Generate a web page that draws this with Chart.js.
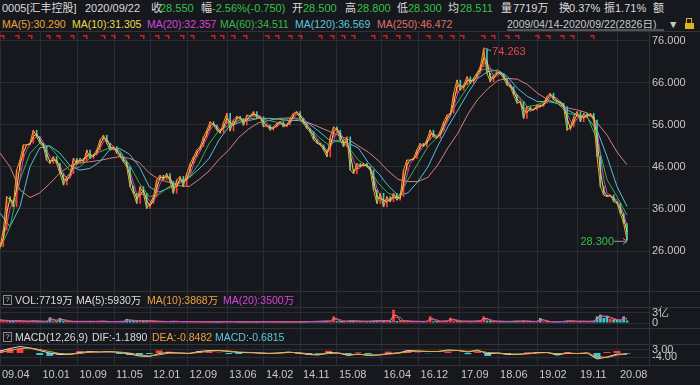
<!DOCTYPE html>
<html><head><meta charset="utf-8">
<script src="https://cdn.jsdelivr.net/npm/chart.js@4.4.0/dist/chart.umd.min.js"></script>
<style>
body{margin:0;background:#16181d;width:700px;height:385px;overflow:hidden;position:relative;font-family:"Liberation Sans","Noto Sans CJK SC",sans-serif;font-size:11px;color:#dcdcdc}
.t{position:absolute;white-space:nowrap;line-height:14px}
.s{font-size:10.5px}
canvas{position:absolute;left:0}
.hl{position:absolute;left:0;width:700px;height:1px;background:#30333a}
.g{color:#35c04a}
.q{position:absolute;left:3px;width:7px;height:8px;border:1px solid #8a8a8a;font-size:8px;line-height:8px;text-align:center;color:#bbb}
</style></head><body>

<div class="t" style="left:2px;top:1px">0005[汇丰控股]</div>
<div class="t" style="left:85px;top:1px">2020/09/22</div>
<div class="t" style="left:151px;top:1px">收</div><div class="t g" style="left:160px;top:1px">28.550</div>
<div class="t" style="left:201px;top:1px">幅</div><div class="t g" style="left:212px;top:1px">-2.56%(-0.750)</div>
<div class="t" style="left:292px;top:1px">开</div><div class="t g" style="left:303px;top:1px">28.500</div>
<div class="t" style="left:345px;top:1px">高</div><div class="t g" style="left:357px;top:1px">28.800</div>
<div class="t" style="left:397px;top:1px">低</div><div class="t g" style="left:408px;top:1px">28.300</div>
<div class="t" style="left:448px;top:1px">均</div><div class="t g" style="left:460px;top:1px">28.511</div>
<div class="t" style="left:501px;top:1px">量</div><div class="t" style="left:513px;top:1px">7719万</div>
<div class="t" style="left:559px;top:1px">换</div><div class="t" style="left:569px;top:1px">0.37%</div>
<div class="t" style="left:604px;top:1px">振</div><div class="t" style="left:615px;top:1px">1.71%</div>
<div class="t" style="left:653px;top:1px">额</div>

<div class="t s" style="left:2px;top:17px;color:#eda23c">MA(5):30.290</div>
<div class="t s" style="left:72px;top:17px;color:#e6dc4a">MA(10):31.305</div>
<div class="t s" style="left:147px;top:17px;color:#d844d8">MA(20):32.357</div>
<div class="t s" style="left:220px;top:17px;color:#3cb84a">MA(60):34.511</div>
<div class="t s" style="left:295px;top:17px;color:#5cc8d8">MA(120):36.569</div>
<div class="t s" style="left:377px;top:17px;color:#e0706a">MA(250):46.472</div>
<div class="t s" style="left:507px;top:17px;color:#c8c8c8">2009/04/14-2020/09/22(2826日)</div>
<div class="t s" style="left:668px;top:17px;color:#c8c8c8">▼</div>
<div style="position:absolute;left:685px;top:23px;width:9px;height:6px;background:#e0b020"></div>
<div style="position:absolute;left:686px;top:18px;width:4px;height:4px;border:1px solid #e0b020;border-bottom:none"></div>
<div style="position:absolute;left:507px;top:29px;width:157px;height:2px;background:#50535a"></div>

<canvas id="price" width="700" height="260" style="top:31px"></canvas>
<canvas id="vol" width="700" height="37" style="top:291px"></canvas>
<canvas id="macd" width="700" height="57" style="top:328px"></canvas>

<div class="hl" style="top:31px"></div>
<div class="hl" style="top:291px"></div>
<div class="hl" style="top:307px"></div>
<div class="hl" style="top:328px"></div>
<div class="hl" style="top:344px"></div>
<div class="hl" style="top:365px"></div>

<div class="q" style="top:295px">?</div>
<div class="t s" style="left:15px;top:293px">VOL:7719万</div>
<div class="t s" style="left:76px;top:293px">MA(5):5930万</div>
<div class="t s" style="left:147px;top:293px;color:#eda23c">MA(10):3868万</div>
<div class="t s" style="left:223px;top:293px;color:#d844d8">MA(20):3500万</div>

<div class="q" style="top:332px">?</div>
<div class="t s" style="left:15px;top:330px">MACD(12,26,9)</div>
<div class="t s" style="left:92px;top:330px">DIF:-1.1890</div>
<div class="t s" style="left:152px;top:330px;color:#eda23c">DEA:-0.8482</div>
<div class="t s" style="left:215px;top:330px;color:#5cc8d8">MACD:-0.6815</div>

<script>
// trading days since 2009/04/14, last one is 2020/09/22
const LAST_DAY = 2825;
const X_MAX = 2924;

const tickDays = [0, 182, 349, 514, 680, 845, 1023, 1189, 1356, 1518, 1719, 1886, 2068, 2244, 2420, 2604, 2784];
const tickLabels = ['09.04', '10.01', '10.09', '11.05', '12.01', '12.09', '13.06', '14.02', '14.11',
  '15.08', '16.04', '16.12', '17.09', '18.06', '19.02', '19.11', '20.08'];
const priceTicks = [26, 36, 46, 56, 66, 76];

// closing price, one every ~15 trading days
const closes = [
  27.0, 31.0, 38.9, 38.1, 36.5, 45.2, 47.6, 51.2, 51.2, 51.6,
  54.7, 53.1, 51.6, 50.8, 47.6, 46.8, 48.4, 46.8, 44.4, 41.7,
  43.7, 44.4, 48.0, 46.8, 48.0, 47.2, 50.0, 48.0, 48.8, 50.0,
  52.4, 53.5, 51.6, 50.0, 50.8, 49.2, 48.4, 47.2, 46.0, 41.3,
  39.7, 37.3, 41.3, 39.7, 36.1, 37.3, 38.9, 42.9, 44.0, 42.9,
  44.4, 42.5, 39.7, 42.9, 43.7, 41.3, 44.4, 46.8, 48.4, 50.0,
  50.8, 53.1, 54.7, 56.7, 55.9, 54.7, 54.0, 56.5, 58.7, 54.5,
  57.1, 58.0, 57.5, 55.9, 58.3, 57.9, 59.1, 57.5, 57.9, 55.5,
  55.9, 54.7, 55.5, 56.3, 56.7, 55.5, 55.9, 57.5, 58.7, 59.1,
  57.5, 56.3, 55.1, 54.3, 52.4, 51.6, 51.2, 50.0, 48.4, 53.1,
  55.5, 54.7, 52.4, 50.8, 53.1, 45.2, 44.4, 46.8, 46.0, 46.8,
  46.0, 45.2, 40.5, 37.3, 39.7, 36.5, 38.9, 37.7, 39.7, 38.1,
  38.9, 45.2, 47.6, 47.6, 48.0, 50.0, 51.6, 50.8, 52.4, 54.7,
  53.1, 52.8, 54.5, 56.7, 58.3, 58.7, 63.5, 66.6, 64.2, 65.4,
  67.4, 65.8, 67.0, 68.2, 69.8, 74.0, 68.2, 66.2, 67.8, 68.6,
  68.2, 67.0, 65.4, 65.0, 63.1, 61.1, 61.5, 57.5, 60.3, 59.5,
  59.5, 60.7, 60.3, 61.1, 62.7, 63.5, 61.9, 61.5, 61.1, 60.3,
  54.7, 55.5, 57.9, 59.1, 56.7, 58.7, 57.9, 58.7, 57.1, 48.4,
  41.3, 39.3, 38.9, 39.3, 37.7, 37.3, 34.9, 32.5, 28.55
];

// long moving averages, one every ~45 trading days
const ma60 = [
  26.5, 31.7, 42.9, 49.2, 51.6, 50.8, 48.0, 45.2, 46.0, 48.0,
  49.5, 50.5, 50.0, 46.5, 42.1, 38.9, 39.5, 41.3, 42.5, 43.5,
  46.8, 51.5, 54.7, 55.8, 57.0, 57.5, 57.5, 57.0, 56.5, 57.5,
  57.5, 55.5, 53.1, 51.2, 52.4, 50.8, 47.6, 46.0, 42.1, 39.7,
  38.9, 42.9, 46.8, 50.8, 53.1, 57.5, 61.5, 65.0, 68.6, 69.4,
  68.6, 66.2, 63.1, 60.3, 60.7, 61.9, 61.1, 58.7, 58.3, 57.9,
  52.4, 42.9, 38.9, 34.51
];
const ma120 = [
  35.0, 31.8, 36.5, 46.0, 50.5, 51.0, 49.3, 46.4, 45.2, 45.6,
  47.1, 50.0, 50.4, 49.0, 46.0, 41.2, 40.0, 41.0, 42.4, 43.4,
  45.5, 48.0, 52.4, 55.5, 56.5, 57.0, 57.5, 57.5, 57.3, 57.0,
  57.0, 56.3, 54.5, 52.5, 52.0, 51.6, 50.5, 47.0, 44.5, 41.5,
  39.2, 39.8, 42.5, 46.0, 51.0, 55.5, 59.5, 63.5, 67.0, 68.6,
  69.0, 67.4, 64.6, 62.7, 61.5, 61.5, 61.1, 59.5, 58.3, 57.7,
  54.7, 48.4, 41.3, 36.57
];
const ma250 = [
  49.3, 46.0, 40.5, 38.7, 39.8, 42.0, 44.5, 46.2, 46.9, 47.2,
  47.5, 48.0, 48.4, 48.0, 47.0, 44.5, 43.0, 42.3, 41.5, 41.3,
  43.0, 45.0, 47.8, 50.0, 53.0, 55.0, 56.5, 57.0, 57.5, 57.6,
  57.3, 56.5, 55.5, 54.5, 53.5, 52.5, 51.0, 49.5, 47.5, 45.0,
  43.0, 42.5, 42.5, 43.5, 46.5, 50.5, 54.0, 58.5, 62.0, 64.5,
  66.5, 67.0, 66.8, 65.5, 63.5, 62.0, 61.0, 60.0, 59.5, 58.8,
  56.5, 53.5, 49.5, 46.47
];

// volume in 万 shares, same steps as closes
const volumes = [
  9000, 7000, 8000, 6500, 6000, 7500, 6000, 5500, 5000, 6000,
  6500, 5500, 5000, 4800, 5200, 17000, 6000, 5000, 15000, 6000,
  5500, 5000, 4500, 4800, 5000, 4500, 5200, 4800, 4500, 5000,
  5500, 5000, 4500, 4200, 4800, 4500, 5000, 4800, 12000, 6500,
  7000, 7500, 6000, 6500, 7000, 6000, 5500, 5000, 4800, 4500,
  4500, 4800, 5200, 4500, 4200, 4500, 4000, 3800, 4200, 4000,
  3800, 4000, 3600, 3800, 4000, 3500, 3800, 4200, 4000, 4500,
  3800, 3600, 4000, 3500, 3800, 3600, 3500, 3800, 4000, 4200,
  3800, 4000, 3600, 3500, 3800, 3600, 3400, 3600, 3500, 3800,
  3600, 4000, 4200, 4500, 5000, 4800, 5200, 5500, 6000, 5000,
  20000, 5500, 5000, 5800, 5200, 7000, 6500, 5500, 5000, 5200,
  5000, 5500, 6500, 7000, 6000, 7500, 6500, 6000, 40000, 6000,
  6500, 7000, 5500, 5000, 4800, 5000, 4500, 4800, 5000, 20000,
  5000, 4800, 5500, 6000, 5500, 16000, 6500, 6000, 5500, 5000,
  5500, 5000, 5500, 6000, 7000, 20000, 7500, 6000, 5500, 5000,
  5000, 4800, 4500, 5000, 5500, 6000, 5000, 6500, 5000, 4800,
  4500, 4800, 15000, 4500, 4200, 4000, 4200, 4000, 4500, 5000,
  6500, 6000, 5000, 4800, 5500, 5000, 4800, 5000, 6000, 20000,
  25000, 15000, 22000, 12000, 9000, 10000, 8000, 20000, 7719
];

// MACD(12,26,9) lines, same steps as the long averages
const dif = [
  2.0, 4.5, 6.5, 5.0, 2.5, 0.0, -1.5, -1.5, 0.5, 1.5,
  1.0, 1.5, 0.5, -1.0, -3.0, -3.5, -0.5, 0.5, 0.0, -0.5,
  1.5, 2.5, 2.5, 1.5, 0.5, 0.5, 0.0, -0.5, 0.0, 1.0,
  0.0, -1.5, -2.0, 0.5, 0.0, -2.5, -1.0, -2.5, -2.0, -0.5,
  0.0, 2.5, 2.0, 1.5, 1.5, 3.0, 2.5, 1.0, 3.0, -1.0,
  0.0, -1.5, -1.5, -0.5, 0.5, 0.5, -2.0, 0.0, -0.5, 0.0,
  -6.0, -4.0, -1.0, -1.189
];
const dea = [
  0.5, 2.5, 4.5, 5.0, 3.5, 1.5, -0.5, -1.2, -0.5, 0.8,
  1.0, 1.2, 1.0, 0.0, -1.8, -3.0, -1.8, -0.2, 0.0, -0.3,
  0.5, 1.8, 2.3, 2.0, 1.0, 0.6, 0.2, -0.3, -0.2, 0.5,
  0.4, -0.8, -1.6, -0.6, -0.1, -1.5, -1.3, -1.9, -2.0, -1.2,
  -0.3, 1.2, 1.8, 1.6, 1.5, 2.3, 2.5, 1.6, 2.2, 0.5,
  0.0, -0.8, -1.3, -0.9, 0.0, 0.4, -0.9, -0.5, -0.5, -0.2,
  -3.5, -4.5, -2.0, -0.848
];

// information markers along the top of the price panel (trading day)
const eventDays = [9, 77, 135, 216, 261, 324, 383, 464, 509, 572, 640, 707, 752, 820, 865, 960, 1000,
  1050, 1104, 1203, 1248, 1307, 1352, 1442, 1496, 1545, 1590, 1681, 1735, 1793, 1838, 1928, 1982,
  2037, 2082, 2176, 2221, 2284, 2329, 2419, 2469, 2532, 2577, 2667];

const maxPrice = 74.263, maxDay = 2172;
const minPrice = 28.300, minDay = 2825;

const FONT = '"Liberation Sans", "Noto Sans CJK SC", sans-serif';
const GRID = '#2a2d34';
const LABEL = '#c8c8c8';
const UP = '#ff3c3c', DOWN = '#3cc8c8';

const dayAt = (arr, i) => Math.round(i * LAST_DAY / (arr.length - 1));
const points = arr => arr.map((v, i) => ({x: dayAt(arr, i), y: v}));
function movingAvg(arr, n) {
  return arr.map((_, i) => {
    const s = arr.slice(Math.max(0, i - n + 1), i + 1);
    return s.reduce((a, b) => a + b, 0) / s.length;
  });
}
const isUp = i => i === 0 || closes[i] >= closes[i - 1];

function xAxis(labels) {
  return {
    type: 'linear', min: 0, max: X_MAX, offset: false,
    afterBuildTicks: s => { s.ticks = tickDays.map(v => ({value: v})); },
    grid: {color: GRID, drawTicks: false, offset: false},
    border: {display: false},
    ticks: {
      display: labels, autoSkip: false, maxRotation: 0, align: 'start', labelOffset: 2, padding: 3,
      color: LABEL, font: {family: FONT, size: 11},
      callback: (v, i) => tickLabels[i]
    },
    afterFit: s => { s.height = labels ? 20 : 0; s.paddingLeft = 0; s.paddingRight = 0; }
  };
}
function yAxis(min, max, ticks, fmt) {
  return {
    position: 'right', min, max,
    afterBuildTicks: s => { s.ticks = ticks.map(v => ({value: v})); },
    grid: {color: GRID, drawTicks: false},
    border: {display: true, color: '#30333a'},
    ticks: {color: LABEL, padding: 3, font: {family: FONT, size: 11}, callback: fmt},
    afterFit: s => { s.width = 51; s.paddingTop = 0; s.paddingBottom = 0; }
  };
}
const line = (data, color, order) => ({
  type: 'line', data, borderColor: color, borderWidth: 1, pointRadius: 0, tension: 0, order
});
const base = {
  responsive: false, animation: false, events: [],
  layout: {padding: 0},
  plugins: {legend: {display: false}, tooltip: {enabled: false}}
};

const marks = {
  id: 'marks',
  afterDatasetsDraw(chart) {
    const {ctx, chartArea} = chart;
    const x = chart.scales.x, y = chart.scales.y;
    ctx.save();
    ctx.fillStyle = '#d01e1e';
    eventDays.forEach(d => {
      const px = Math.round(x.getPixelForValue(d));
      ctx.fillRect(px - 2, chartArea.top + 4, 4, 1.5);
      ctx.fillRect(px + 1, chartArea.top + 4, 1.5, 4);
    });
    ctx.font = '11px ' + FONT;
    ctx.textBaseline = 'middle';
    const hx = x.getPixelForValue(maxDay), hy = y.getPixelForValue(maxPrice);
    ctx.strokeStyle = '#9a9a9a';
    ctx.lineWidth = 1;
    ctx.beginPath(); ctx.moveTo(hx + 1, hy); ctx.lineTo(hx + 9, hy + 3); ctx.stroke();
    ctx.fillStyle = '#e84848';
    ctx.textAlign = 'left';
    ctx.fillText(maxPrice.toFixed(3), hx + 10, hy + 4);
    const lx = x.getPixelForValue(minDay), ly = y.getPixelForValue(minPrice);
    ctx.beginPath(); ctx.moveTo(lx - 13, ly); ctx.lineTo(lx, ly);
    ctx.moveTo(lx - 4, ly - 3); ctx.lineTo(lx, ly); ctx.lineTo(lx - 4, ly + 3); ctx.stroke();
    ctx.fillStyle = '#35c04a';
    ctx.textAlign = 'right';
    ctx.fillText(minPrice.toFixed(3), lx - 13, ly + 1);
    ctx.restore();
  }
};

new Chart(document.getElementById('price'), {
  type: 'bar',
  data: {
    datasets: [
      {
        type: 'bar', order: 4,
        data: closes.map((c, i) => ({x: dayAt(closes, i), y: [i ? closes[i - 1] : c, c]})),
        backgroundColor: ctx => isUp(ctx.dataIndex) ? UP : DOWN,
        barThickness: 1, grouped: false
      },
      line(points(ma250), '#d8807a', 9),
      line(points(ma120), '#52c2d4', 8),
      line(points(ma60), '#34b445', 7),
      line(points(movingAvg(closes, 3)), '#d040d0', 5),
      line(points(movingAvg(closes, 2)), '#e8dc40', 2),
      line(points(closes), '#f0a030', 1)
    ]
  },
  options: {
    ...base,
    scales: {
      x: xAxis(false),
      y: yAxis(16.5, 78.26, priceTicks, v => v.toFixed(3))
    }
  },
  plugins: [marks]
});

new Chart(document.getElementById('vol'), {
  type: 'bar',
  data: {
    datasets: [
      {
        type: 'bar', order: 3,
        data: volumes.map((v, i) => ({x: dayAt(volumes, i), y: v})),
        backgroundColor: ctx => isUp(ctx.dataIndex) ? UP : DOWN,
        categoryPercentage: 1, barPercentage: 0.8, grouped: false
      },
      line(points(movingAvg(volumes, 3)), '#d040d0', 1),
      line(points(movingAvg(volumes, 2)), '#f0a030', 2)
    ]
  },
  options: {
    ...base,
    scales: {
      x: xAxis(false),
      y: yAxis(-15000, 96000, [0, 30000], v => v === 0 ? '0' : (v / 10000) + '亿')
    }
  }
});

new Chart(document.getElementById('macd'), {
  type: 'bar',
  data: {
    datasets: [
      {
        type: 'bar', order: 3,
        data: dif.map((v, i) => ({x: dayAt(dif, i), y: 2 * (v - dea[i])})),
        backgroundColor: ctx => ctx.raw.y >= 0 ? UP : DOWN,
        categoryPercentage: 1, barPercentage: 0.7, grouped: false
      },
      line(points(dif), '#d8d8d8', 2),
      line(points(dea), '#eda23c', 1)
    ]
  },
  options: {
    ...base,
    scales: {
      x: xAxis(true),
      y: yAxis(-12, 25, [3, -4], v => v.toFixed(2))
    }
  }
});
</script>
</body></html>
